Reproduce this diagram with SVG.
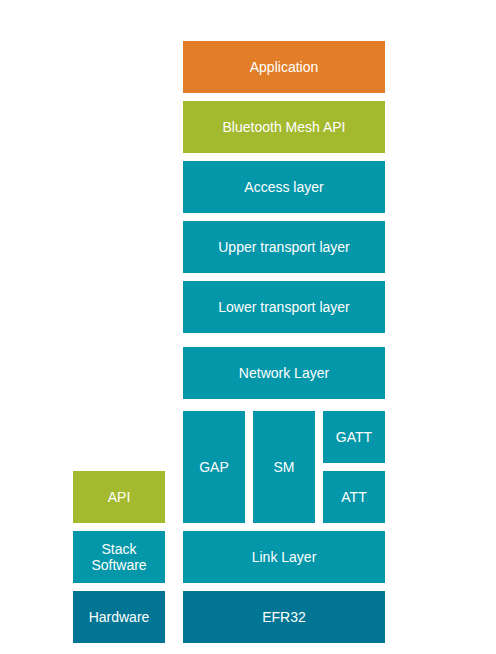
<svg xmlns="http://www.w3.org/2000/svg" width="496" height="654" viewBox="0 0 496 654">
<style>
text{font-family:"Liberation Sans",Arial,sans-serif;font-size:14px;fill:#ffffff;text-anchor:middle;dominant-baseline:central}
.o{fill:#e27e27}.g{fill:#a3b92e}.t{fill:#0496a9}.d{fill:#017593}
</style>
<rect width="496" height="654" fill="#ffffff"/>
<g id="application"><rect class="o" x="183" y="41" width="202" height="52"/><text x="284" y="67">Application</text></g>
<g id="mesh-api"><rect class="g" x="183" y="101" width="202" height="52"/><text x="284" y="127">Bluetooth Mesh API</text></g>
<g id="access"><rect class="t" x="183" y="161" width="202" height="52"/><text x="284" y="187">Access layer</text></g>
<g id="upper"><rect class="t" x="183" y="221" width="202" height="52"/><text x="284" y="247">Upper transport layer</text></g>
<g id="lower"><rect class="t" x="183" y="281" width="202" height="52"/><text x="284" y="307">Lower transport layer</text></g>
<g id="network"><rect class="t" x="183" y="347" width="202" height="52"/><text x="284" y="373">Network Layer</text></g>
<g id="gap"><rect class="t" x="183" y="411" width="62" height="112"/><text x="214" y="467">GAP</text></g>
<g id="sm"><rect class="t" x="253" y="411" width="62" height="112"/><text x="284" y="467">SM</text></g>
<g id="gatt"><rect class="t" x="323" y="411" width="62" height="52"/><text x="354" y="437">GATT</text></g>
<g id="att"><rect class="t" x="323" y="471" width="62" height="52"/><text x="354" y="497">ATT</text></g>
<g id="link"><rect class="t" x="183" y="531" width="202" height="52"/><text x="284" y="557">Link Layer</text></g>
<g id="efr32"><rect class="d" x="183" y="591" width="202" height="52"/><text x="284" y="617">EFR32</text></g>
<g id="legend-api"><rect class="g" x="73" y="471" width="92" height="52"/><text x="119" y="497">API</text></g>
<g id="legend-stack"><rect class="t" x="73" y="531" width="92" height="52"/><text x="119" y="549">Stack</text><text x="119" y="565">Software</text></g>
<g id="legend-hw"><rect class="d" x="73" y="591" width="92" height="52"/><text x="119" y="617">Hardware</text></g>
<g id="connectors"/>
</svg>
